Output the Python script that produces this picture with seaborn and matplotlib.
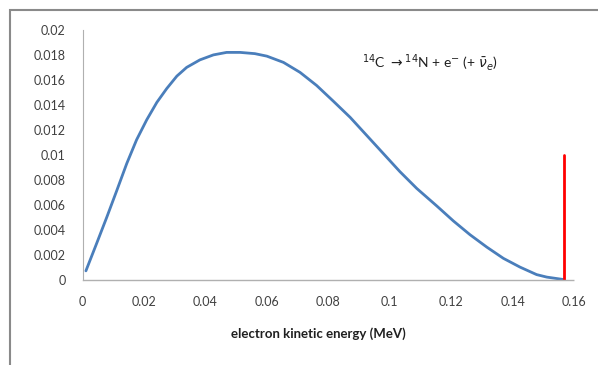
import numpy as np
import pandas as pd
import seaborn as sns
import matplotlib.pyplot as plt
from matplotlib.patches import Rectangle

# beta spectrum of C-14
energy = [0.0011, 0.0046, 0.0079, 0.0111, 0.0144, 0.0176, 0.0209, 0.0242, 0.0274,
          0.0307, 0.0339, 0.0382, 0.0426, 0.0469, 0.0513, 0.0561, 0.0600, 0.0654,
          0.0708, 0.0762, 0.0816, 0.0871, 0.0925, 0.0979, 0.1033, 0.1088, 0.1153,
          0.1207, 0.1261, 0.1316, 0.1370, 0.1424, 0.1478, 0.1511, 0.1567]
intensity = [0.0007, 0.0029, 0.0050, 0.0071, 0.0093, 0.0112, 0.0128, 0.0142, 0.0153,
             0.0163, 0.0170, 0.0176, 0.0180, 0.0182, 0.0182, 0.0181, 0.0179, 0.0174,
             0.0166, 0.01555, 0.0143, 0.0130, 0.01155, 0.0101, 0.00865, 0.0073, 0.0059,
             0.0047, 0.0036, 0.0026, 0.0017, 0.0010, 0.0004, 0.0002, 0.0]

endpoint_x = [0.1567, 0.1567]
endpoint_y = [0.0, 0.010]

x_ticks = [0, 0.02, 0.04, 0.06, 0.08, 0.1, 0.12, 0.14, 0.16]
y_ticks = [0, 0.002, 0.004, 0.006, 0.008, 0.01, 0.012, 0.014, 0.016, 0.018, 0.02]

sns.set_style("white")
plt.rcParams["font.family"] = ["Lato", "DejaVu Sans"]

df = pd.DataFrame({"E": energy, "N": intensity})

fig = plt.figure(figsize=(5.98, 3.65), dpi=100)
ax = fig.add_axes([0.138, 0.234, 0.822, 0.684])

sns.lineplot(data=df, x="E", y="N", ax=ax, color="#4a7ebb", linewidth=2.0,
             estimator=None, sort=False, solid_joinstyle="round")
sns.lineplot(x=endpoint_x, y=endpoint_y, ax=ax, color="#ff0000", linewidth=2.0,
             estimator=None, sort=False)

ax.set_xlim(0, 0.16)
ax.set_ylim(0, 0.02)
ax.set_xticks(x_ticks)
ax.set_yticks(y_ticks)
ax.set_xticklabels([f"{t:g}" for t in x_ticks])
ax.set_yticklabels([f"{t:g}" for t in y_ticks])
ax.tick_params(axis="both", length=4, width=0.8, color="#a0a0a0",
               labelsize=9, labelcolor="#404040", direction="out")
ax.tick_params(axis="x", pad=8)
ax.tick_params(axis="y", pad=8)

for s in ["top", "right"]:
    ax.spines[s].set_visible(False)
ax.spines["left"].set_color("#b0b0b0")
ax.spines["bottom"].set_color("#b0b0b0")
ax.spines["bottom"].set_linestyle((0, (1, 1)))
ax.spines["left"].set_linewidth(0.8)
ax.spines["bottom"].set_linewidth(1.0)

ax.set_xlabel("electron kinetic energy (MeV)", fontsize=9.5, fontweight="bold",
              color="#202020")
ax.xaxis.set_label_coords(0.48, -0.19)
ax.set_ylabel("")

ax.text(0.091, 0.0174,
        r"$^{14}$C $\rightarrow$$^{14}$N + e$^{-}$ (+ $\bar{\nu}_{e}$)",
        fontsize=10, color="#202020", ha="left", va="center")

fig.add_artist(Rectangle((10 / 598, -0.1), 1.2, (355 / 365) + 0.1,
                         transform=fig.transFigure, fill=False,
                         edgecolor="#8a8a8a", linewidth=1.5))

fig.savefig("out.png", dpi=100, facecolor="white")
